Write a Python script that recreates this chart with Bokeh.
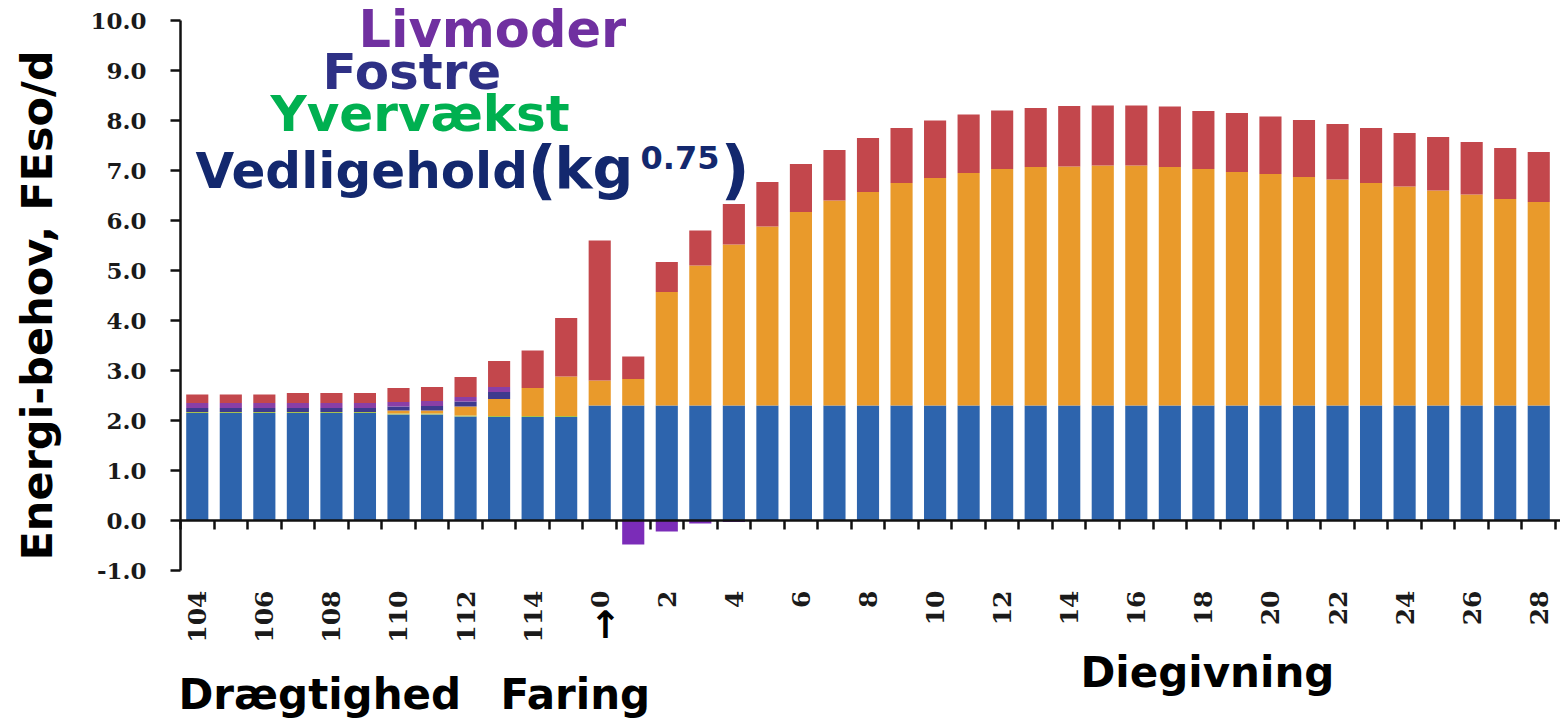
import math
from bokeh.plotting import figure
from bokeh.models import (ColumnDataSource, FixedTicker, LinearAxis, Label,
                          Range1d, NumeralTickFormatter)
from bokeh.embed import file_html
from bokeh.resources import INLINE

# ---------------- data ----------------
days_pregnancy = ["104", "105", "106", "107", "108", "109", "110", "111",
                  "112", "113", "114", "115"]
days_lactation = [str(d) for d in range(29)]
days = days_pregnancy + days_lactation

vedligehold_p = [2.15, 2.15, 2.15, 2.15, 2.15, 2.15, 2.12, 2.12, 2.08, 2.07, 2.07, 2.07]
vedligehold_l = [2.30] * 29
yvervaekst_p = [0.02] * 12
yvervaekst_l = [0.0] * 29
maelk_p = [0, 0, 0, 0, 0, 0, 0.06, 0.06, 0.18, 0.34, 0.56, 0.79]
maelk_l = [0.50, 0.53, 2.27, 2.80, 3.22, 3.58, 3.87, 4.10, 4.27, 4.45, 4.55, 4.65,
           4.73, 4.77, 4.78, 4.80, 4.80, 4.77, 4.73, 4.67, 4.63, 4.57, 4.52, 4.45,
           4.38, 4.30, 4.22, 4.13, 4.07]
fostre_p = [0.08, 0.08, 0.08, 0.08, 0.08, 0.08, 0.08, 0.09, 0.10, 0.14, 0, 0]
fostre_l = [0.0] * 29
livmoder_p = [0.10, 0.10, 0.10, 0.10, 0.10, 0.10, 0.09, 0.10, 0.09, 0.10, 0, 0]
livmoder_l = [0, -0.48, -0.22, -0.06, -0.03] + [0.0] * 24
oevrigt_p = [0.17, 0.17, 0.17, 0.20, 0.20, 0.20, 0.28, 0.28, 0.40, 0.52, 0.75, 1.17]
oevrigt_l = [2.80, 0.45, 0.60, 0.70, 0.81, 0.89, 0.96, 1.01, 1.08, 1.10, 1.15, 1.17,
             1.17, 1.18, 1.21, 1.20, 1.20, 1.21, 1.16, 1.18, 1.15, 1.14, 1.11, 1.10,
             1.07, 1.07, 1.05, 1.02, 1.00]

y_ticks = list(range(-1, 11))

vedligehold = vedligehold_p + vedligehold_l
yvervaekst = yvervaekst_p + yvervaekst_l
maelk = maelk_p + maelk_l
fostre = fostre_p + fostre_l
livmoder = livmoder_p + livmoder_l
oevrigt = oevrigt_p + oevrigt_l

n = len(days)
idx = list(range(n))

src = ColumnDataSource(dict(
    x=idx,
    vedligehold=vedligehold,
    yvervaekst=yvervaekst,
    maelk=maelk,
    fostre=fostre,
    livmoder_pos=[max(0.0, v) for v in livmoder],
    livmoder_neg=[min(0.0, v) for v in livmoder],
    oevrigt=oevrigt,
    zero=[0.0] * n,
))

C_BLUE = "#2D64AD"
C_GREEN = "#A9C24E"
C_ORANGE = "#E99A2B"
C_INDIGO = "#3E3A8E"
C_PURPLE = "#8A3FA6"
C_RED = "#C3474C"

# ------------- geometry (screen px -> data) -------------
W, H = 1560, 724
AX_X = 180.0            # screen x of the y axis (left edge of first category)
PXW = 33.537            # pixels per category
ZERO_Y = 520.0          # screen y of value 0
PXU = 50.0              # pixels per unit on y


def dx(px):
    return -0.5 + (px - AX_X) / PXW


def dy(py):
    return (ZERO_Y - py) / PXU


x_start, x_end = dx(0), dx(W)
y_start, y_end = dy(H), dy(0)

p = figure(width=W, height=H,
           x_range=Range1d(x_start, x_end), y_range=Range1d(y_start, y_end),
           output_backend="svg", toolbar_location=None,
           min_border_left=0, min_border_right=0,
           min_border_top=0, min_border_bottom=0)
p.outline_line_color = None
p.xgrid.visible = False
p.ygrid.visible = False
p.background_fill_color = "white"

BW = 0.66
p.vbar_stack(["vedligehold", "yvervaekst", "maelk", "fostre", "livmoder_pos", "oevrigt"],
             x="x", width=BW, source=src,
             color=[C_BLUE, C_GREEN, C_ORANGE, C_INDIGO, C_PURPLE, C_RED],
             line_color=None)
p.vbar(x="x", top="zero", bottom="livmoder_neg", width=BW, source=src,
       fill_color="#7B2CB8", line_color=None)

# y axis
ya = p.yaxis[0]
ya.fixed_location = -0.5
ya.bounds = (y_ticks[0], y_ticks[-1])
ya.ticker = FixedTicker(ticks=y_ticks)
ya.formatter = NumeralTickFormatter(format="0.0")
ya.axis_line_width = 2.5
ya.axis_line_color = "#111111"
ya.major_tick_line_width = 2.5
ya.major_tick_line_color = "#111111"
ya.major_tick_out = 10
ya.major_tick_in = 0
ya.minor_tick_line_color = None
ya.major_label_standoff = 24
ya.major_label_text_font = "DejaVu Serif"
ya.major_label_text_font_style = "bold"
ya.major_label_text_font_size = "23px"
ya.major_label_text_color = "#1a1a1a"

# x axis with labels (at -1)
xa = p.xaxis[0]
xa.fixed_location = y_ticks[0]
label_ticks = [i for i in idx if i % 2 == 0]
xa.ticker = FixedTicker(ticks=label_ticks)
xa.major_label_overrides = {i: days[i] for i in label_ticks}
xa.major_label_orientation = math.pi / 2
xa.axis_line_color = None
xa.major_tick_line_color = None
xa.minor_tick_line_color = None
xa.major_label_standoff = 14
xa.major_label_text_font = "DejaVu Serif"
xa.major_label_text_font_style = "bold"
xa.major_label_text_font_size = "25px"
xa.major_label_text_color = "#1a1a1a"

# zero line axis with ticks between bars
boundaries = [i + 0.5 for i in range(-1, n)]
za = LinearAxis(fixed_location=0, ticker=FixedTicker(ticks=boundaries))
za.bounds = (-0.5, x_end)
za.major_label_overrides = {b: "" for b in boundaries}
za.major_label_text_font_size = "1px"
za.major_label_text_color = None
za.axis_line_width = 2.5
za.axis_line_color = "#111111"
za.major_tick_line_width = 2.5
za.major_tick_line_color = "#111111"
za.major_tick_out = 9
za.major_tick_in = 0
za.minor_tick_line_color = None
p.add_layout(za, "below")

# --------------- texts ----------------
FONT = "DejaVu Sans"
SHIFT = 0.40   # empirical correction for label baseline placement


def add_text(text, px, py, size, color, align="left", angle=0.0, font=FONT, style="bold"):
    s = SHIFT * size
    if angle:
        qx, qy = px - s, py
    else:
        qx, qy = px, py - s
    p.add_layout(Label(x=dx(qx), y=dy(qy), text=text, text_font=font,
                       text_font_size=f"{size}px", text_font_style=style,
                       text_color=color, text_align=align,
                       text_baseline="alphabetic", angle=angle))


add_text("Livmoder", 358, 49, 51, "#7030A0")
add_text("Fostre", 322, 91, 50, "#2E3085")
add_text("Yvervækst", 270, 133, 50, "#00B050")
add_text("Vedligehold", 195, 190, 50, "#13286E")
add_text("(", 527, 195, 64, "#13286E")
add_text("kg", 554, 190, 57, "#13286E")
add_text("0.75", 640, 170, 32, "#13286E")
add_text(")", 720, 195, 64, "#13286E")

add_text("Energi-behov, FEso/d", 54, 305, 43, "black", align="center",
         angle=math.pi / 2)
add_text("Drægtighed", 178, 711, 42, "black")
add_text("Faring", 500, 711, 42, "black")
add_text("Diegivning", 1080, 689, 42, "black")
add_text("↑", 605, 640, 38, "black", align="center")

open("out.html", "w").write(file_html(p, INLINE))
